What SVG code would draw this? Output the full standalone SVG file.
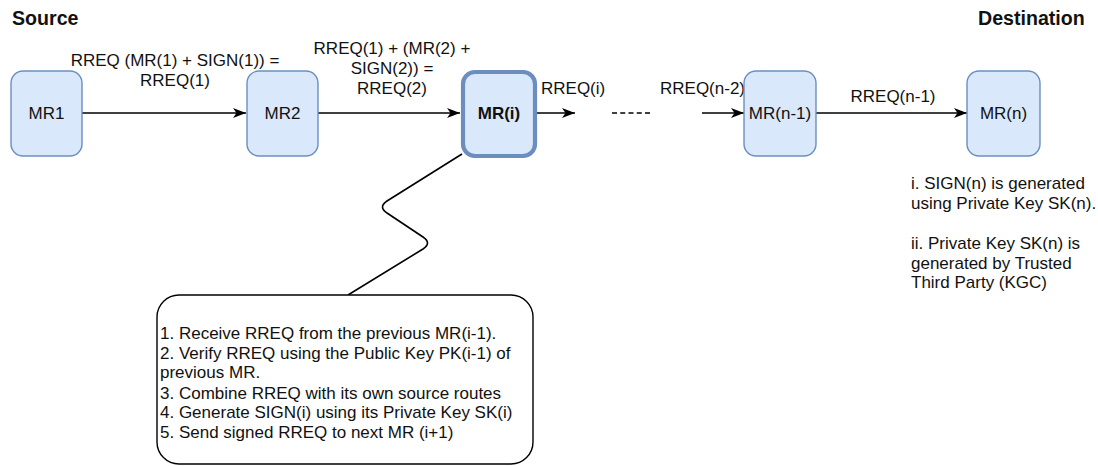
<svg xmlns="http://www.w3.org/2000/svg" width="1098" height="466" viewBox="0 0 1098 466">
  <style>
    text { font-family: "Liberation Sans", Arial, Helvetica, sans-serif; font-size: 17px; fill: #111; }
    .title { font-weight: bold; font-size: 19.6px; }
    .node rect { fill: #dae8fc; stroke: #6c8ebf; stroke-width: 1.4; }
    .node.focus rect { stroke-width: 4.2; }
    .node text { text-anchor: middle; }
    .node.focus text { font-weight: bold; }
    .lbl { text-anchor: middle; }
    .edge { fill: none; stroke: #000; stroke-width: 1.6; }
  </style>
  <defs>
    <marker id="arr" markerUnits="userSpaceOnUse" markerWidth="14" markerHeight="11" refX="13" refY="5" orient="auto">
      <path d="M0,0 L13,5 L0,10 L3.5,5 Z" fill="#000"/>
    </marker>
  </defs>
  <rect width="1098" height="466" fill="#fff"/>

  <text class="title" x="12" y="25">Source</text>
  <text class="title" x="978" y="25">Destination</text>

  <g id="connectors">
    <line class="edge" x1="82" y1="113" x2="246" y2="113" marker-end="url(#arr)"/>
    <line class="edge" x1="318" y1="113" x2="460" y2="113" marker-end="url(#arr)"/>
    <line class="edge" x1="537" y1="113" x2="575" y2="113" marker-end="url(#arr)"/>
    <line class="edge" x1="612" y1="113" x2="650" y2="113" stroke-dasharray="5 3.25"/>
    <line class="edge" x1="702" y1="113" x2="744" y2="113" marker-end="url(#arr)"/>
    <line class="edge" x1="816" y1="113" x2="967" y2="113" marker-end="url(#arr)"/>
    <path class="edge" stroke="#333" d="M348,295 L423,249 Q432,243 423,237 L387,213 Q378,207 387,201 L462,154"/>
    <text class="lbl" x="175" y="66">RREQ (MR(1) + SIGN(1)) =</text>
    <text class="lbl" x="175" y="86">RREQ(1)</text>
    <text class="lbl" x="392" y="54">RREQ(1) + (MR(2) +</text>
    <text class="lbl" x="392" y="74">SIGN(2)) =</text>
    <text class="lbl" x="392" y="94">RREQ(2)</text>
    <text x="541" y="94">RREQ(i)</text>
    <text x="660" y="94">RREQ(n-2)</text>
    <text class="lbl" x="893" y="102">RREQ(n-1)</text>
  </g>

  <g id="mr1" class="node">
    <rect x="11" y="71" width="71" height="85" rx="12"/>
    <text x="46.5" y="119">MR1</text>
  </g>
  <g id="mr2" class="node">
    <rect x="247" y="71" width="71" height="85" rx="12"/>
    <text x="282.5" y="119">MR2</text>
  </g>
  <g id="mri" class="node focus">
    <rect x="463" y="72" width="72" height="84" rx="12"/>
    <text x="499" y="119">MR(i)</text>
  </g>
  <g id="mrn1" class="node">
    <rect x="744" y="71" width="72" height="85" rx="12"/>
    <text x="780" y="119">MR(n-1)</text>
  </g>
  <g id="mrn" class="node">
    <rect x="967" y="71" width="73" height="85" rx="12"/>
    <text x="1003.5" y="119">MR(n)</text>
  </g>

  <g id="callout">
    <rect x="157" y="295" width="376" height="169" rx="22" fill="#fff" stroke="#000" stroke-width="1.4"/>
    <text x="160" y="339">1. Receive RREQ from the previous MR(i-1).</text>
    <text x="160" y="359">2. Verify RREQ using the Public Key PK(i-1) of</text>
    <text x="160" y="378">previous MR.</text>
    <text x="160" y="399">3. Combine RREQ with its own source routes</text>
    <text x="160" y="418">4. Generate SIGN(i) using its Private Key SK(i)</text>
    <text x="160" y="438">5. Send signed RREQ to next MR (i+1)</text>
  </g>

  <g id="note">
    <text x="911" y="189">i. SIGN(n) is generated</text>
    <text x="911" y="209">using Private Key SK(n).</text>
    <text x="911" y="249">ii. Private Key SK(n) is</text>
    <text x="911" y="269">generated by Trusted</text>
    <text x="911" y="288">Third Party (KGC)</text>
  </g>
</svg>
